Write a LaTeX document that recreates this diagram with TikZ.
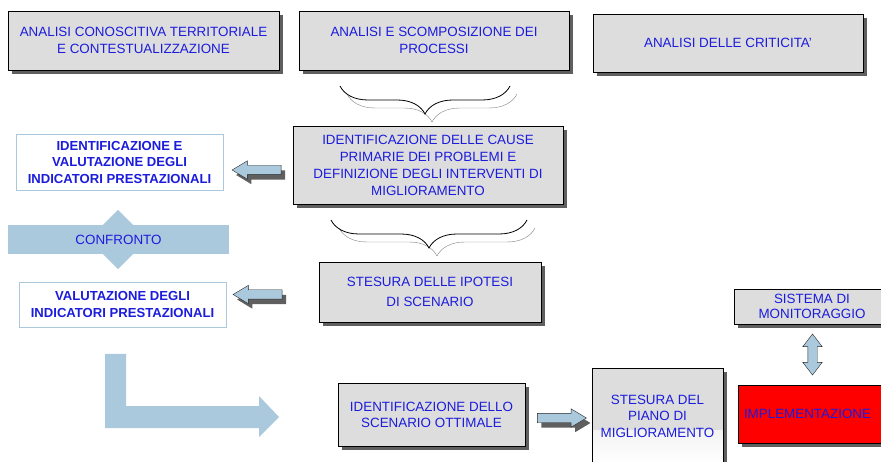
\documentclass[tikz,border=0pt]{standalone}
\usepackage{fontspec}
\setmainfont{Liberation Sans}
\usetikzlibrary{shapes.arrows,shadows,decorations.pathreplacing,calc}

\definecolor{grigio}{RGB}{221,221,221}
\definecolor{blu}{RGB}{28,28,220}
\definecolor{azzurro}{RGB}{171,201,221}
\definecolor{ombra}{RGB}{95,95,95}

\begin{document}
\begin{tikzpicture}[x=1pt, y=-1pt,
    testo/.style={text=blu, align=center, inner sep=0pt, font=\fontsize{13.4}{17}\selectfont},
    scatola/.style={testo, draw=black, thick, fill=grigio,
      drop shadow={shadow xshift=4pt, shadow yshift=-4pt, fill=ombra, opacity=1}},
    cornice/.style={testo, draw=azzurro, thick, fill=white, font=\bfseries\fontsize{13.1}{16.5}\selectfont},
    freccia/.style={single arrow, draw=black!85, fill=azzurro, inner sep=4.5pt,
      single arrow head extend=4.5pt, single arrow tip angle=62, minimum height=49pt,
      drop shadow={shadow xshift=4pt, shadow yshift=-5pt, fill=ombra, opacity=1}},
    graffa/.style={decorate, decoration={brace, mirror, amplitude=28pt}}
  ]
  \useasboundingbox (0,0) rectangle (881,462);

  % riga in alto
  \node[scatola, minimum width=271pt, minimum height=59pt] (conosc) at (143.5,40.5)
    {ANALISI CONOSCITIVA TERRITORIALE\\E CONTESTUALIZZAZIONE};
  \node[scatola, minimum width=270pt, minimum height=59pt] (processi) at (434,40.5)
    {ANALISI E SCOMPOSIZIONE DEI\\PROCESSI};
  \node[scatola, minimum width=270pt, minimum height=58pt] (criticita) at (728,43)
    {ANALISI DELLE CRITICITA'};

  % colonna centrale
  \node[scatola, minimum width=270pt, minimum height=78pt] (cause) at (428,165)
    {IDENTIFICAZIONE DELLE CAUSE\\PRIMARIE DEI PROBLEMI E\\DEFINIZIONE DEGLI INTERVENTI DI\\MIGLIORAMENTO};
  \node[scatola, minimum width=222pt, minimum height=60pt, font=\fontsize{13.4}{20}\selectfont] (ipotesi) at (430,292)
    {STESURA DELLE IPOTESI\\DI SCENARIO};

  \coordinate (g1a) at (340,86);
  \coordinate (g1b) at (510,86);
  \draw[graffa, gray] ($(g1a)+(7,8)$) -- ($(g1b)+(7,8)$);
  \draw[graffa, thick] (g1a) -- (g1b);
  \coordinate (g2a) at (331,220);
  \coordinate (g2b) at (527,220);
  \draw[graffa, gray] ($(g2a)+(8,8)$) -- ($(g2b)+(8,8)$);
  \draw[graffa, thick] (g2a) -- (g2b);

  % indicatori a sinistra
  \node[cornice, minimum width=207pt, minimum height=56pt] (indic1) at (119.5,162)
    {IDENTIFICAZIONE E\\VALUTAZIONE DEGLI\\INDICATORI PRESTAZIONALI};
  \node[cornice, minimum width=207pt, minimum height=45pt] (indic2) at (122.5,304.5)
    {VALUTAZIONE DEGLI\\INDICATORI PRESTAZIONALI};
  \node[freccia, shape border rotate=180] (f1) at (260.5,170) {};
  \node[freccia, shape border rotate=180] (f2) at (261.5,294.5) {};

  \fill[azzurro] (118,210) -- (148,239.5) -- (118,269) -- (88,239.5) -- cycle;
  \node[testo, fill=azzurro, minimum width=221pt, minimum height=29pt] (confronto) at (118.5,239.5) {CONFRONTO};

  \fill[azzurro] (105,354) -- (126,354) -- (126,406) -- (259,406) -- (259,396) -- (279,417)
    -- (259,437) -- (259,428) -- (105,428) -- cycle;

  % riga in basso
  \node[scatola, minimum width=187pt, minimum height=63pt, font=\fontsize{13.4}{16}\selectfont] (ottimale) at (431.5,414.5)
    {IDENTIFICAZIONE DELLO\\SCENARIO OTTIMALE};
  \node[freccia] (f3) at (558,418) {};
  \node[scatola, minimum width=131pt, minimum height=96pt, font=\fontsize{13.4}{16.5}\selectfont,
    path picture={\shade[top color=grigio, bottom color=white]
      ([yshift=-62pt]path picture bounding box.north west) rectangle (path picture bounding box.south east);}]
    (piano) at (657.5,416) {STESURA DEL\\PIANO DI\\MIGLIORAMENTO};

  \node[scatola, minimum width=156pt, minimum height=35pt, font=\fontsize{13.4}{15}\selectfont] (sistema) at (812,306.5)
    {SISTEMA DI\\MONITORAGGIO};
  \node[scatola, fill=red, text width=134pt, align=left, inner xsep=6pt, minimum height=58pt] (implem) at (811,414)
    {IMPLEMENTAZIONE};
  \node[double arrow, draw=black!85, fill=azzurro, inner sep=4.5pt, double arrow head extend=5pt,
    double arrow tip angle=75, minimum height=41pt, rotate=90] (f4) at (812.5,354.5) {};
\end{tikzpicture}
\end{document}
